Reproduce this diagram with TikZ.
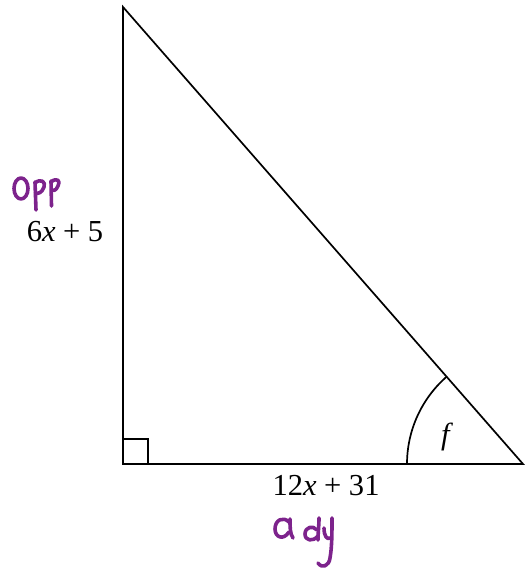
\documentclass[tikz,border=0pt]{standalone}
\usepackage{fontspec}
\setmainfont{Liberation Serif}
\begin{document}
\begin{tikzpicture}[x=1pt,y=1pt,
  edge/.style={line width=1.7pt,black,line join=miter},
  hand/.style={line width=3.6pt,draw=pen,line cap=round,line join=round},
  lbl/.style={font=\fontsize{30.5}{32}\selectfont,inner sep=0pt}]
\definecolor{pen}{RGB}{125,35,140}
\useasboundingbox (0,0) rectangle (524,572);
% vertices
\coordinate (A) at (123,565);
\coordinate (B) at (123,108);
\coordinate (C) at (523,108);
\draw[edge] (A) -- (B) -- (C) -- cycle;
% right-angle mark
\draw[line width=1.4pt] (123,133) -- (148,133) -- (148,108);
% angle arc
\draw[line width=1.7pt] (407,108) arc[start angle=180,end angle=131.2,radius=116];
% labels
\node[lbl] (f) at (447,135) {\textit{f}};
\node[lbl,anchor=base] (opp) at (65,330) {6\textit{x} + 5};
\node[lbl,anchor=base] (adj) at (326,76) {12\textit{x} + 31};
% handwriting "Opp"
\draw[hand] (21,383.5) ellipse[x radius=7,y radius=10.5];
\draw[hand] (35,390) -- (36,362);
\draw[hand] (35,389) .. controls (41,394) and (46,390) .. (44,385) .. controls (42,379) and (38,378) .. (35.5,379);
\draw[hand] (51,391) -- (51.5,366);
\draw[hand] (51,390) .. controls (57,395) and (61,391) .. (58,386) .. controls (56,381) and (53,381) .. (51.5,382);
% handwriting "adj"
\draw[hand] (289,50) .. controls (283,56) and (275,52) .. (275,43) .. controls (275,35) and (283,31) .. (289,40);
\draw[hand] (290,53) .. controls (290,45) and (290,38) .. (293,34);
\draw[hand] (317,42) .. controls (313,47) and (305,45) .. (305,38) .. controls (305,31) and (313,30) .. (318,36);
\draw[hand] (319,54) .. controls (319,46) and (318,40) .. (318,32);
\draw[hand] (324,44) .. controls (324,36) and (327,32) .. (330,34);
\draw[hand] (332,54) .. controls (332,40) and (332,25) .. (330,14) .. controls (329,6) and (322,3) .. (318,9);
\end{tikzpicture}
\end{document}
